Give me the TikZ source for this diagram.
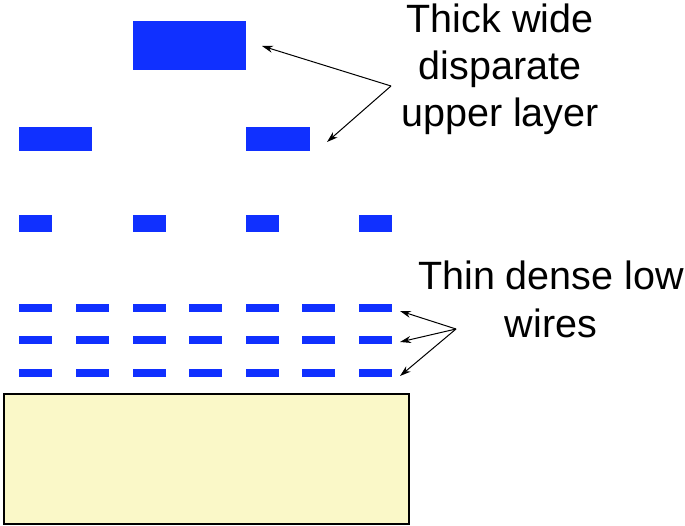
\documentclass[tikz,border=0pt]{standalone}
\usepackage{fontspec}
\setmainfont{Liberation Sans}
\usetikzlibrary{arrows.meta}
\definecolor{wireblue}{RGB}{16,48,255}
\definecolor{substrate}{RGB}{250,248,200}
\begin{document}
\begin{tikzpicture}[x=1pt,y=-1pt,
  wire/.style={fill=wireblue,draw=none,inner sep=0pt,outer sep=0pt,anchor=north west},
  lbl/.style={align=center,inner sep=0pt,font=\fontsize{39.5}{47}\selectfont},
  pointer/.style={draw=black,line width=1pt,-{Stealth[length=11pt,width=7pt]}}]
\useasboundingbox (0,0) rectangle (685,526);
% top layer
\node[wire,minimum width=113pt,minimum height=49pt] (top) at (133,21) {};
% second layer
\node[wire,minimum width=73pt,minimum height=24pt] (s1) at (19,127) {};
\node[wire,minimum width=64pt,minimum height=24pt] (s2) at (246,127) {};
% third layer
\foreach \i/\x in {1/19,2/133,3/246,4/359}
  \node[wire,minimum width=33pt,minimum height=17pt] (t\i) at (\x,215) {};
% dense low wires
\foreach \r/\y in {1/304,2/336,3/369}
  \foreach \i/\x in {1/19,2/76,3/133,4/189,5/246,6/302,7/359}
    \node[wire,minimum width=33pt,minimum height=8pt] (w\r\i) at (\x,\y) {};
% substrate
\node[draw=black,line width=1.6pt,fill=substrate,inner sep=0pt,anchor=north west,
  minimum width=405pt,minimum height=130pt] (sub) at (3,393) {};
% labels
\node[lbl,anchor=north] (upper) at (500,4) {Thick wide\\disparate\\upper layer};
\node[lbl,anchor=north,font=\fontsize{39.5}{48}\selectfont] (low) at (551,261) {Thin dense low\\wires};
% arrows
\coordinate (ua) at (391,86);
\coordinate (ut1) at (262,46);
\coordinate (ut2) at (327,142);
\draw[pointer] (ua) -- (ut1);
\draw[pointer] (ua) -- (ut2);
\coordinate (la) at (456,329);
\coordinate (lt1) at (400,311);
\coordinate (lt2) at (400,342);
\coordinate (lt3) at (400,376);
\draw[pointer] (la) -- (lt1);
\draw[pointer] (la) -- (lt2);
\draw[pointer] (la) -- (lt3);
\end{tikzpicture}
\end{document}
